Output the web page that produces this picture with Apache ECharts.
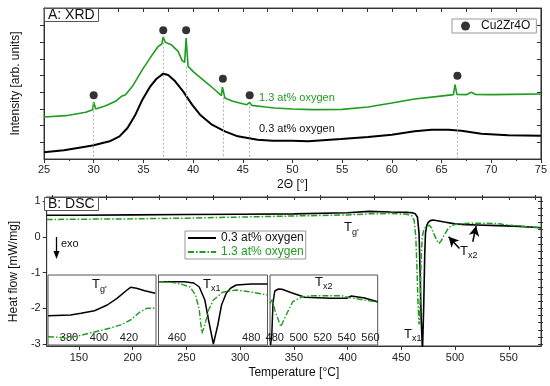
<!DOCTYPE html>
<html><head><meta charset="utf-8">
<script src="https://cdn.jsdelivr.net/npm/echarts@6/dist/echarts.min.js"></script>
<style>html,body{margin:0;padding:0;background:#fff}#c{width:550px;height:386px}</style>
</head><body><div id="c"></div>
<script>
// ---------- A: XRD data ----------
const xrdTheta03 = [25,27,29,30,31,31.6,32.6,33.4,34.2,34.9,35.7,36.3,37,37.5,38.2,39,39.9,40.7,41.9,43.2,44.5,46.5,48,50,51.6,54.9,57.6,60,62.3,64,65.7,67,69,71.7,75];
const xrdInt03   = [-0.3,-0.24,-0.14,-0.09,-0.01,0.03,0.18,0.43,0.83,1.28,1.68,1.9,2.06,2.02,1.83,1.53,1.13,0.83,0.53,0.33,0.18,0.08,0.05,0.05,0.03,0.1,0.16,0.23,0.33,0.38,0.38,0.35,0.26,0.21,0.2];
const xrdTheta13 = [25,27.2,29.2,29.9,30.0,30.2,31.2,32.2,32.8,33.2,33.9,34.9,35.9,36.5,36.85,37.0,37.2,37.8,38.5,38.9,39.15,39.3,39.5,40.1,41.1,42.1,42.85,42.95,43.2,44,45.4,45.7,45.9,47.3,48.2,50,52,55,57.6,60,62.3,64.7,66.2,66.36,66.55,67.5,68,68.4,70,72,75];
const xrdInt13   = [0.76,0.8,0.9,0.98,1.21,1.0,1.1,1.23,1.38,1.43,1.68,2.18,2.63,2.88,2.95,3.16,3.0,2.93,2.73,2.45,2.4,3.13,2.28,2.1,1.85,1.6,1.4,1.66,1.33,1.23,1.13,1.2,1.11,1.06,1.03,1.0,0.98,0.99,1.06,1.18,1.3,1.38,1.43,1.73,1.44,1.43,1.5,1.44,1.43,1.44,1.45];
const peakTheta   = [30, 37, 39.3, 43, 45.7, 66.6];
const peakDot     = [1.41, 3.36, 3.36, 1.91, 1.41, 2.0];
const peakLineTop = [1.19, 2.99, 2.27, 1.34, 1.07, 1.37];

// ---------- B: DSC data ----------
const dscT03 = [120,150,200,250,300,350,400,420,440,455,460,463,465,466.5,467.5,468.5,469.7,470.8,471.8,472.5,473.5,475,477,479.5,485,490,500,510,520,540,560,580];
const dscH03 = [0.6,0.6,0.61,0.62,0.63,0.64,0.67,0.71,0.69,0.68,0.67,0.64,0.55,0.1,-1,-2.3,-3.2,-2.0,-0.5,0.1,0.3,0.4,0.45,0.47,0.44,0.41,0.36,0.34,0.33,0.31,0.29,0.25];
const dscT13 = [120,150,200,250,300,350,400,420,440,455,460,462,463.5,464.5,465.5,466.5,467.5,468.5,469.5,471,473,476,478,480,483,485,487,490,493,496,500,510,520,540,545,560,580];
const dscH13 = [0.48,0.49,0.5,0.52,0.55,0.58,0.61,0.64,0.65,0.63,0.58,0.45,0.0,-0.8,-1.8,-2.45,-1.8,-0.6,0.0,0.2,0.28,0.32,0.25,0.1,-0.1,-0.19,-0.12,0.05,0.2,0.3,0.34,0.37,0.38,0.37,0.34,0.3,0.25];
const dscXTicks = [150,200,250,300,350,400,450,500,550];
const dscXMinor = [125,175,225,275,325,375,425,475,525,575];
const dscYTicks = [-3,-2,-1,0,1];
const dscYMinor = [-3,-2.8,-2.6,-2.4,-2.2,-2,-1.8,-1.6,-1.4,-1.2,-1,-0.8,-0.6,-0.4,-0.2,0,0.2,0.4,0.6,0.8,1];
const arrowFrom = [[504.2,-0.33],[516.5,-0.14]];
const arrowTo   = [[494,0.0],[519.6,0.3]];

// insets (relative heat flow, arb.)
const in1T03 = [366,381,388,397,405.5,412,418.7,421,425,430.5,437.5];
const in1H03 = [29.3,30,31.7,34.3,40,46.7,55,57.7,56.7,54.3,51.7];
const in1T13 = [366,377.5,386,396,407,415,421,427.5,432,437.5];
const in1H13 = [8.3,7.3,9,12.7,16.7,20.5,25,33.3,36.7,36.7];
const in1Ticks = [380,400,420];
const in2T03 = [455,462,464.5,466,467.5,468.5,469.8,471,472,473.3,474.5,476,480,484.4];
const in2H03 = [63.3,63.3,62,58,45,25,1,20,40,52,57,60,61,61];
const in2T13 = [455,458,461,463.5,465,466,466.7,467.5,468.5,469.8,472.4,476,480,484.4];
const in2H13 = [63.3,63,61,58,50,35,11.7,20,35,45,53,55,53,50];
const in2Ticks = [460,480];
const in3T03 = [476.5,477.5,478.5,480,483,486,494,505,527,540,544,555,566];
const in3H03 = [0,10,42,54,56,55.7,52.3,47.7,46.7,46.7,49,47,43.3];
const in3T13 = [476,478,480,485,489.5,495,503,511,536,541,566];
const in3H13 = [41.7,45.7,35,18.3,30,43.3,48.3,49.3,49.3,47.7,42.7];
const in3Ticks = [480,500,520,540,560];

const GREEN = '#1f9d1f';
const FONT = 'Liberation Sans, Arial, sans-serif';
const zip = (a, b) => a.map((v, i) => [v, b[i]]);

const chart = echarts.init(document.getElementById('c'), null, {renderer: 'canvas'});

const LINE = {onZero: false, lineStyle: {color: '#333'}};
const NOLINE = {show: false, onZero: false};
const insetGrid = (left, width) => ({left, top: 275, width, height: 70, show: true, borderColor: '#555', borderWidth: 1, backgroundColor: '#fff', z: 5});
const insetX = (gi, min, max, ticks) => ({
  type: 'value', gridIndex: gi, min, max, z: 6,
  axisLine: NOLINE, splitLine: {show: false},
  axisTick: {show: false},
  axisLabel: {inside: true, margin: 2, customValues: ticks, color: '#222', fontSize: 11, fontFamily: FONT}
});
const insetY = (gi) => ({type: 'value', gridIndex: gi, min: 0, max: 70, show: false, axisLine: NOLINE});
const blackLine = (xi, data, w) => ({name: '0.3 at% oxygen', type: 'line', xAxisIndex: xi, yAxisIndex: xi, data, symbol: 'none',
  itemStyle: {color: '#000'}, lineStyle: {color: '#000', width: w}, z: xi > 4 ? 7 : 3});
const greenLine = (xi, data, w) => ({name: '1.3 at% oxygen', type: 'line', xAxisIndex: xi, yAxisIndex: xi, data, symbol: 'none',
  itemStyle: {color: GREEN}, lineStyle: {color: GREEN, width: w, type: [6, 2, 1.5, 2]}, z: xi > 4 ? 7 : 3});

const option = {
  animation: false,
  backgroundColor: '#fff',
  textStyle: {fontFamily: FONT},
  title: [
    {text: 'A: XRD', left: 44, top: 8, padding: [0, 4], borderColor: '#555', borderWidth: 1, backgroundColor: '#fff',
     textStyle: {fontSize: 14, fontWeight: 'normal', color: '#111', fontFamily: FONT}},
    {text: 'B: DSC', left: 44, top: 197, padding: [0, 4], borderColor: '#555', borderWidth: 1, backgroundColor: '#fff',
     textStyle: {fontSize: 14, fontWeight: 'normal', color: '#111', fontFamily: FONT}}
  ],
  legend: [
    {data: ['Cu2Zr4O'], left: 452, top: 19, padding: [1, 6, 1, 9], itemWidth: 9, itemHeight: 9, itemGap: 4,
     borderColor: '#999', borderWidth: 1, backgroundColor: '#fff',
     textStyle: {fontSize: 12, color: '#111', fontFamily: FONT, padding: [0, 0, 0, 6]}},
    {data: [{name: '0.3 at% oxygen', textStyle: {color: '#111'}}, {name: '1.3 at% oxygen', textStyle: {color: GREEN}}],
     orient: 'vertical', left: 185, top: 231, padding: [1, 2], itemWidth: 28, itemHeight: 12, itemGap: 2,
     itemStyle: {opacity: 0},
     borderColor: '#999', borderWidth: 1, backgroundColor: '#fff',
     textStyle: {fontSize: 12, fontFamily: FONT}}
  ],
  grid: [
    {left: 44, top: 8, right: 9, height: 151, show: true, borderColor: '#444', borderWidth: 1},
    {left: 44, top: 197, right: 9, height: 149, show: true, borderColor: '#444', borderWidth: 1},
    insetGrid(48, 108),
    insetGrid(158.5, 109),
    insetGrid(270, 107.7)
  ],
  xAxis: [
    {type: 'value', gridIndex: 0, min: 25, max: 75, interval: 5, name: '2Θ [°]', nameLocation: 'middle', nameGap: 20,
     nameTextStyle: {fontSize: 12, color: '#111', fontFamily: FONT},
     axisLine: LINE, splitLine: {show: false},
     axisTick: {length: 4, lineStyle: {color: '#333'}},
     minorTick: {show: true, splitNumber: 2, length: 2, lineStyle: {color: '#333'}},
     axisLabel: {fontSize: 11, color: '#222', margin: 5, fontFamily: FONT}},
    {type: 'value', gridIndex: 0, position: 'top', min: 25, max: 75, interval: 5,
     axisLine: LINE, splitLine: {show: false}, axisLabel: {show: false},
     axisTick: {inside: true, length: 4, lineStyle: {color: '#333'}},
     minorTick: {show: true, splitNumber: 2, length: 4, lineStyle: {color: '#333'}}},
    {type: 'value', gridIndex: 1, min: 120, max: 580, name: 'Temperature [°C]', nameLocation: 'middle', nameGap: 21,
     nameTextStyle: {fontSize: 12, color: '#111', fontFamily: FONT},
     axisLine: LINE, splitLine: {show: false},
     axisTick: {length: 4, customValues: dscXTicks, lineStyle: {color: '#333'}},
     axisLabel: {customValues: dscXTicks, fontSize: 11, color: '#222', margin: 6, fontFamily: FONT}},
    {type: 'value', gridIndex: 1, min: 120, max: 580,
     axisLine: NOLINE, splitLine: {show: false}, axisLabel: {show: false},
     axisTick: {length: 2, customValues: dscXMinor, lineStyle: {color: '#333'}}},
    {type: 'value', gridIndex: 1, position: 'top', min: 120, max: 580,
     axisLine: LINE, splitLine: {show: false}, axisLabel: {show: false},
     axisTick: {inside: true, length: 3, customValues: dscXTicks.concat(dscXMinor), lineStyle: {color: '#333'}}},
    insetX(2, 366, 438, in1Ticks),
    insetX(3, 455, 484.4, in2Ticks),
    insetX(4, 476, 566, in3Ticks)
  ],
  yAxis: [
    {type: 'value', gridIndex: 0, min: -0.5, max: 4.03, name: 'Intensity [arb. units]', nameLocation: 'middle', nameGap: 22,
     nameTextStyle: {fontSize: 12, color: '#111', fontFamily: FONT},
     axisLine: LINE, splitLine: {show: false}, axisLabel: {show: false},
     axisTick: {length: 4, customValues: [0, 0.5, 1, 1.5, 2, 2.5, 3, 3.5], lineStyle: {color: '#333'}}},
    {type: 'value', gridIndex: 0, position: 'right', min: -0.5, max: 4.03,
     axisLine: LINE, splitLine: {show: false}, axisLabel: {show: false},
     axisTick: {inside: true, length: 4, customValues: [0, 0.5, 1, 1.5, 2, 2.5, 3, 3.5], lineStyle: {color: '#333'}}},
    {type: 'value', gridIndex: 1, min: -3.05, max: 1.11, name: 'Heat flow [mW/mg]', nameLocation: 'middle', nameGap: 19,
     nameTextStyle: {fontSize: 12, color: '#111', fontFamily: FONT},
     axisLine: LINE, splitLine: {show: false},
     axisTick: {length: 4, customValues: dscYTicks, lineStyle: {color: '#333'}},
     axisLabel: {customValues: dscYTicks, fontSize: 11, color: '#222', margin: 6, fontFamily: FONT}},
    {type: 'value', gridIndex: 1, min: -3.05, max: 1.11,
     axisLine: NOLINE, splitLine: {show: false}, axisLabel: {show: false},
     axisTick: {length: 2, customValues: dscYMinor, lineStyle: {color: '#333'}}},
    {type: 'value', gridIndex: 1, position: 'right', min: -3.05, max: 1.11,
     axisLine: LINE, splitLine: {show: false}, axisLabel: {show: false},
     axisTick: {inside: true, length: 3, customValues: dscYMinor, lineStyle: {color: '#333'}}},
    insetY(2), insetY(3), insetY(4)
  ],
  series: [
    {name: 'xrd03', type: 'line', xAxisIndex: 0, yAxisIndex: 0, data: zip(xrdTheta03, xrdInt03), symbol: 'none',
     lineStyle: {color: '#000', width: 2}, z: 3},
    {name: 'xrd13', type: 'line', xAxisIndex: 0, yAxisIndex: 0, data: zip(xrdTheta13, xrdInt13), symbol: 'none',
     lineStyle: {color: GREEN, width: 1.6}, z: 3},
    {name: 'Cu2Zr4O', type: 'scatter', xAxisIndex: 0, yAxisIndex: 0, data: zip(peakTheta, peakDot), symbol: 'circle', symbolSize: 8,
     itemStyle: {color: '#000'}, z: 4,
     markLine: {silent: true, symbol: ['none', 'none'], label: {show: false},
       lineStyle: {type: [2, 2], color: '#b0b0b0', width: 1},
       data: peakTheta.map((t, i) => [{coord: [t, peakLineTop[i]]}, {coord: [t, -0.5]}])}},
    Object.assign(blackLine(2, zip(dscT03, dscH03), 1.6), {
     markLine: {silent: true, symbol: ['none', 'arrow'], symbolSize: [8, 10], label: {show: false},
       lineStyle: {type: 'solid', color: '#000', width: 1.5},
       data: arrowFrom.map((f, i) => [{coord: f}, {coord: arrowTo[i]}])}}),
    greenLine(2, zip(dscT13, dscH13), 1.5),
    blackLine(5, zip(in1T03, in1H03), 1.5),
    greenLine(5, zip(in1T13, in1H13), 1.4),
    blackLine(6, zip(in2T03, in2H03), 1.5),
    greenLine(6, zip(in2T13, in2H13), 1.4),
    blackLine(7, zip(in3T03, in3H03), 1.5),
    greenLine(7, zip(in3T13, in3H13), 1.4)
  ],
  graphic: [
    {type: 'text', left: 259, top: 92, z: 20, style: {text: '1.3 at% oxygen', fill: GREEN, fontSize: 11, fontFamily: FONT}},
    {type: 'text', left: 259, top: 123, z: 20, style: {text: '0.3 at% oxygen', fill: '#111', fontSize: 11, fontFamily: FONT}},
    // exo arrow
    {type: 'line', z: 20, shape: {x1: 56.5, y1: 237, x2: 56.5, y2: 252}, style: {stroke: '#000', lineWidth: 1.3}},
    {type: 'polygon', z: 20, shape: {points: [[53.5, 251], [59.5, 251], [56.5, 259]]}, style: {fill: '#000'}},
    {type: 'text', left: 61, top: 238, z: 20, style: {text: 'exo', fill: '#111', fontSize: 11, fontFamily: FONT}},
    // main annotations
    {type: 'text', left: 344, top: 221, z: 20, style: {text: 'T', fill: '#111', fontSize: 13, fontFamily: FONT}},
    {type: 'text', left: 352, top: 228, z: 20, style: {text: "g'", fill: '#111', fontSize: 9, fontFamily: FONT}},
    {type: 'text', left: 404, top: 328, z: 20, style: {text: 'T', fill: '#111', fontSize: 13, fontFamily: FONT}},
    {type: 'text', left: 412, top: 334, z: 20, style: {text: 'x1', fill: '#111', fontSize: 9, fontFamily: FONT}},
    {type: 'text', left: 460, top: 245, z: 20, style: {text: 'T', fill: '#111', fontSize: 13, fontFamily: FONT}},
    {type: 'text', left: 468, top: 251, z: 20, style: {text: 'x2', fill: '#111', fontSize: 9, fontFamily: FONT}},
    // inset titles
    {type: 'text', left: 92, top: 278, z: 20, style: {text: 'T', fill: '#111', fontSize: 13, fontFamily: FONT}},
    {type: 'text', left: 100, top: 285, z: 20, style: {text: "g'", fill: '#111', fontSize: 9, fontFamily: FONT}},
    {type: 'text', left: 203, top: 278, z: 20, style: {text: 'T', fill: '#111', fontSize: 13, fontFamily: FONT}},
    {type: 'text', left: 211, top: 284, z: 20, style: {text: 'x1', fill: '#111', fontSize: 9, fontFamily: FONT}},
    {type: 'text', left: 315, top: 276, z: 20, style: {text: 'T', fill: '#111', fontSize: 13, fontFamily: FONT}},
    {type: 'text', left: 323, top: 282, z: 20, style: {text: 'x2', fill: '#111', fontSize: 9, fontFamily: FONT}}
  ]
};
chart.setOption(option);
</script>
</body></html>
